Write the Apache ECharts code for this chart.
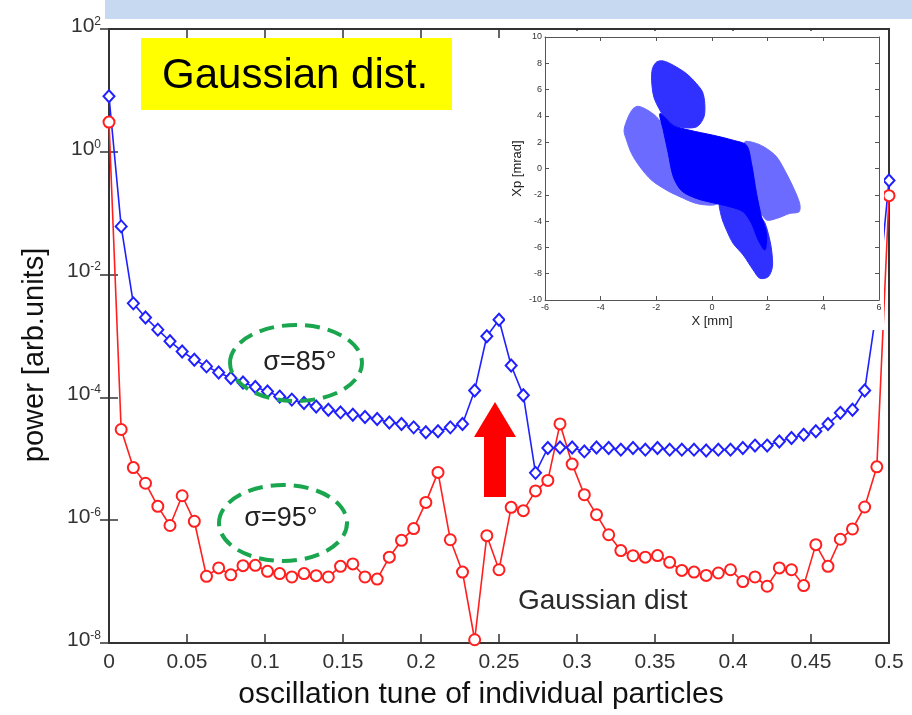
<!DOCTYPE html>
<html>
<head>
<meta charset="utf-8">
<title>power spectrum of individual particles</title>
<script src="https://cdn.jsdelivr.net/npm/echarts@6/dist/echarts.min.js"></script>
<style>
  html, body { margin: 0; padding: 0; background: #fff; }
  #chart { width: 912px; height: 715px; }
</style>
</head>
<body>
<div id="chart"></div>
<script>
// oscillation tune, one point every 1/128
var tunes = [0, 0.0078, 0.0156, 0.0234, 0.0313, 0.0391, 0.0469, 0.0547, 0.0625, 0.0703,
  0.0781, 0.0859, 0.0938, 0.1016, 0.1094, 0.1172, 0.125, 0.1328, 0.1406, 0.1484,
  0.1563, 0.1641, 0.1719, 0.1797, 0.1875, 0.1953, 0.2031, 0.2109, 0.2188, 0.2266,
  0.2344, 0.2422, 0.25, 0.2578, 0.2656, 0.2734, 0.2813, 0.2891, 0.2969, 0.3047,
  0.3125, 0.3203, 0.3281, 0.3359, 0.3438, 0.3516, 0.3594, 0.3672, 0.375, 0.3828,
  0.3906, 0.3984, 0.4063, 0.4141, 0.4219, 0.4297, 0.4375, 0.4453, 0.4531, 0.4609,
  0.4688, 0.4766, 0.4844, 0.4922, 0.5];

// sigma = 85 deg (blue diamonds)
var power85 = [8.0, 6.1e-2, 3.4e-3, 2.0e-3, 1.27e-3, 8.2e-4, 5.6e-4, 4.1e-4, 3.2e-4, 2.55e-4,
  2.07e-4, 1.75e-4, 1.48e-4, 1.25e-4, 1.03e-4, 9.2e-5, 8.1e-5, 7.1e-5, 6.3e-5, 5.7e-5,
  5.2e-5, 4.8e-5, 4.45e-5, 3.9e-5, 3.7e-5, 3.25e-5, 2.7e-5, 2.8e-5, 3.25e-5, 3.7e-5,
  1.3e-4, 9.9e-4, 1.84e-3, 3.3e-4, 1.08e-4, 5.9e-6, 1.5e-5, 1.53e-5, 1.53e-5, 1.32e-5,
  1.53e-5, 1.5e-5, 1.41e-5, 1.5e-5, 1.41e-5, 1.5e-5, 1.41e-5, 1.41e-5, 1.41e-5, 1.37e-5,
  1.41e-5, 1.41e-5, 1.5e-5, 1.64e-5, 1.64e-5, 1.92e-5, 2.18e-5, 2.47e-5, 2.8e-5, 3.7e-5,
  5.6e-5, 6.3e-5, 1.3e-4, 2.9e-3, 0.34];

// sigma = 95 deg (red circles)
var power95 = [3.05, 3.0e-5, 7.2e-6, 4.0e-6, 1.68e-6, 8.2e-7, 2.5e-6, 9.6e-7, 1.22e-7, 1.67e-7,
  1.29e-7, 1.82e-7, 1.84e-7, 1.47e-7, 1.35e-7, 1.19e-7, 1.35e-7, 1.25e-7, 1.19e-7, 1.77e-7,
  1.94e-7, 1.19e-7, 1.1e-7, 2.5e-7, 4.7e-7, 7.3e-7, 1.95e-6, 6.0e-6, 4.8e-7, 1.43e-7,
  1.13e-8, 5.6e-7, 1.56e-7, 1.62e-6, 1.43e-6, 3.0e-6, 4.45e-6, 3.7e-5, 8.2e-6, 2.6e-6,
  1.23e-6, 5.8e-7, 3.2e-7, 2.64e-7, 2.5e-7, 2.65e-7, 2.06e-7, 1.52e-7, 1.43e-7, 1.26e-7,
  1.38e-7, 1.56e-7, 1.0e-7, 1.19e-7, 8.4e-8, 1.67e-7, 1.56e-7, 8.6e-8, 4.0e-7, 1.77e-7,
  4.9e-7, 7.2e-7, 1.64e-6, 7.4e-6, 0.193];

// decades that carry a tick on the power axis
var powerTicks = [1e-8, 1e-6, 1e-4, 1e-2, 1, 1e2];

// inset phase space (X [mm], Xp [mrad]) - outlines of the particle cloud
var leftLobe = [[-3.01, 3.92], [-2.83, 4.56], [-2.65, 4.73], [-2.35, 4.48], [-1.99, 3.92],
  [-1.75, 3.16], [-1.57, 1.65], [-1.39, 0.38], [-1.09, -0.63], [-0.68, -1.39], [-0.08, -1.9],
  [0.28, -2.53], [0.04, -2.78], [-0.56, -2.66], [-1.15, -2.15], [-1.63, -1.65], [-2.17, -0.89],
  [-2.59, 0.13], [-2.89, 1.14], [-3.07, 2.15], [-3.16, 2.91]];
var rightLobe = [[1.18, 2.03], [1.6, 1.9], [1.96, 1.52], [2.32, 0.89], [2.61, -0.13],
  [2.91, -1.39], [3.15, -2.66], [3.13, -3.29], [2.79, -3.42], [2.32, -3.8], [1.96, -3.92],
  [1.72, -3.16], [1.54, -1.9], [1.36, -0.13], [1.24, 1.14]];
var upperArm = [[-1.99, 8.1], [-1.75, 8.18], [-1.39, 7.85], [-0.92, 7.22], [-0.56, 6.46],
  [-0.34, 5.82], [-0.26, 4.94], [-0.29, 3.92], [-0.56, 3.16], [-1.15, 3.16], [-1.63, 3.67],
  [-1.87, 4.43], [-2.09, 5.44], [-2.17, 6.71], [-2.14, 7.59]];
var lowerArm = [[0.28, -2.53], [0.76, -2.78], [1.36, -3.16], [1.84, -3.92], [2.02, -4.94],
  [2.14, -6.2], [2.17, -7.47], [2.02, -8.23], [1.72, -8.35], [1.48, -7.72], [1.12, -6.58],
  [0.76, -5.7], [0.52, -4.68], [0.34, -3.67]];
var denseCore = [[-1.87, 4.18], [-1.39, 3.29], [-0.8, 2.91], [0.04, 2.53], [0.76, 2.15],
  [1.24, 1.77], [1.42, 0.38], [1.6, -1.9], [1.78, -3.67], [1.96, -4.94], [1.9, -6.2],
  [1.66, -5.44], [1.42, -4.18], [1.12, -3.29], [0.64, -2.91], [0.04, -2.61], [-0.56, -2.28],
  [-1.09, -1.7], [-1.39, -0.63], [-1.57, 1.14], [-1.75, 2.91]];

var FONT = "'Liberation Sans', Arial, Helvetica, sans-serif";
var cloudShapes = [leftLobe, rightLobe, upperArm, lowerArm, denseCore];
var cloudFills = ['#6b6bff', '#6b6bff', '#3030ff', '#3030ff', '#0000ff'];

var chart = echarts.init(document.getElementById('chart'));

function pairs(xs, ys) {
  return xs.map(function (x, i) { return [x, ys[i]]; });
}

var insetLabel = { fontSize: 9, color: '#333', fontFamily: FONT };

chart.setOption({
  backgroundColor: '#fff',
  animation: false,
  grid: [
    { left: 109, right: 23, top: 29, bottom: 72, show: true, borderColor: '#333', borderWidth: 2, backgroundColor: 'transparent' },
    { left: 545, right: 33, top: 37, bottom: 415, z: 6 }
  ],
  xAxis: [
    {
      type: 'value', gridIndex: 0, min: 0, max: 0.5, interval: 0.05,
      name: 'oscillation tune of individual particles',
      nameLocation: 'middle', nameGap: 37,
      nameTextStyle: { fontSize: 30, color: '#111', fontFamily: FONT, padding: [0, 36, 0, 0] },
      axisLine: { show: false },
      axisTick: { inside: true, length: 9, lineStyle: { color: '#333', width: 1.5 } },
      axisLabel: { fontSize: 21, color: '#333', margin: 9, fontFamily: FONT },
      splitLine: { show: false }
    },
    {
      type: 'value', gridIndex: 0, position: 'top', min: 0, max: 0.5, interval: 0.05,
      axisLine: { show: false },
      axisTick: { inside: true, length: 9, lineStyle: { color: '#333', width: 1.5 } },
      axisLabel: { show: false }, splitLine: { show: false }
    },
    {
      type: 'value', gridIndex: 1, min: -6, max: 6, interval: 2, z: 8,
      name: 'X [mm]', nameLocation: 'middle', nameGap: 15,
      nameTextStyle: { fontSize: 13, color: '#222', fontFamily: FONT },
      axisLine: { onZero: false, lineStyle: { color: '#555', width: 1 } },
      axisTick: { inside: true, length: 4, lineStyle: { color: '#555' } },
      axisLabel: Object.assign({ margin: 3 }, insetLabel),
      splitLine: { show: false }
    },
    {
      type: 'value', gridIndex: 1, position: 'top', min: -6, max: 6, interval: 2, z: 8,
      axisLine: { onZero: false, lineStyle: { color: '#555', width: 1 } },
      axisTick: { inside: true, length: 4, lineStyle: { color: '#555' } },
      axisLabel: { show: false }, splitLine: { show: false }
    }
  ],
  yAxis: [
    {
      type: 'log', logBase: 10, gridIndex: 0, min: 1e-8, max: 1e2,
      name: 'power [arb.units]', nameLocation: 'middle', nameGap: 60, nameRotate: 90,
      nameTextStyle: { fontSize: 29, color: '#111', fontFamily: FONT, padding: [0, 38, 0, 0] },
      axisLine: { show: false },
      axisTick: { inside: true, length: 9, customValues: powerTicks, lineStyle: { color: '#333', width: 1.5 } },
      axisLabel: {
        margin: 8,
        padding: [0, 0, 6, 0],
        customValues: powerTicks,
        formatter: function (v) {
          return '{b|10}{e|' + Math.round(Math.log10(v)) + '}';
        },
        rich: {
          b: { fontSize: 21, lineHeight: 21, padding: [6, 0, 0, 0], verticalAlign: 'bottom', color: '#333', fontFamily: FONT },
          e: { fontSize: 12, lineHeight: 12, verticalAlign: 'top', color: '#333', fontFamily: FONT }
        }
      },
      splitLine: { show: false }
    },
    {
      type: 'log', logBase: 10, gridIndex: 0, position: 'right', min: 1e-8, max: 1e2,
      axisLine: { show: false },
      axisTick: { inside: true, length: 9, customValues: powerTicks, lineStyle: { color: '#333', width: 1.5 } },
      axisLabel: { show: false }, splitLine: { show: false }
    },
    {
      type: 'value', gridIndex: 1, min: -10, max: 10, interval: 2, z: 8,
      name: 'Xp [mrad]', nameLocation: 'middle', nameGap: 21, nameRotate: 90,
      nameTextStyle: { fontSize: 13, color: '#222', fontFamily: FONT },
      axisLine: { onZero: false, lineStyle: { color: '#555', width: 1 } },
      axisTick: { inside: true, length: 4, lineStyle: { color: '#555' } },
      axisLabel: Object.assign({ margin: 3 }, insetLabel),
      splitLine: { show: false }
    },
    {
      type: 'value', gridIndex: 1, position: 'right', min: -10, max: 10, interval: 2, z: 8,
      axisLine: { onZero: false, lineStyle: { color: '#555', width: 1 } },
      axisTick: { inside: true, length: 4, lineStyle: { color: '#555' } },
      axisLabel: { show: false }, splitLine: { show: false }
    }
  ],
  series: [
    {
      name: 'sigma=95', type: 'line', xAxisIndex: 0, yAxisIndex: 0, clip: false,
      data: pairs(tunes, power95),
      symbol: 'emptyCircle', symbolSize: 11,
      lineStyle: { color: '#ff1f1f', width: 1.6 },
      itemStyle: { color: '#ff1f1f', borderWidth: 1.4 },
      z: 2
    },
    {
      name: 'sigma=85', type: 'line', xAxisIndex: 0, yAxisIndex: 0, clip: false,
      data: pairs(tunes, power85),
      symbol: 'emptyDiamond', symbolSize: [11, 12],
      lineStyle: { color: '#2020ff', width: 1.6 },
      itemStyle: { color: '#2020ff', borderWidth: 1.4 },
      z: 2
    },
    {
      name: 'phase space', type: 'custom', xAxisIndex: 2, yAxisIndex: 2, z: 7,
      data: cloudShapes.map(function (s) { return s[0]; }),
      renderItem: function (params, api) {
        var pts = cloudShapes[params.dataIndex].map(function (p) { return api.coord(p); });
        return {
          type: 'polygon',
          shape: { points: pts, smooth: 0.3 },
          style: { fill: cloudFills[params.dataIndex], stroke: cloudFills[params.dataIndex], lineWidth: 1 }
        };
      }
    }
  ],
  graphic: [
    // banner strip at the top
    { type: 'rect', z: 1, shape: { x: 105, y: 0, width: 807, height: 19 }, style: { fill: '#c6d9f0' } },
    // white background behind the inset
    { type: 'rect', z: 5, shape: { x: 505, y: 31, width: 379, height: 299 }, style: { fill: '#fff' } },
    // yellow label box
    { type: 'rect', z: 9, shape: { x: 141, y: 38, width: 311, height: 72 }, style: { fill: '#ffff00' } },
    { type: 'text', z: 10, x: 162, y: 76,
      style: { text: 'Gaussian dist.', fill: '#000', font: '42px ' + FONT, textVerticalAlign: 'middle', verticalAlign: 'middle' } },
    // green dashed ellipses
    { type: 'ellipse', z: 10, shape: { cx: 296, cy: 363, rx: 66, ry: 38 },
      style: { fill: 'transparent', stroke: '#1aa64e', lineWidth: 4, lineDash: [15, 8] } },
    { type: 'ellipse', z: 10, shape: { cx: 283, cy: 523, rx: 64, ry: 38 },
      style: { fill: 'transparent', stroke: '#1aa64e', lineWidth: 4, lineDash: [15, 8] } },
    { type: 'text', z: 10, x: 300, y: 363,
      style: { text: 'σ=85°', fill: '#222', font: '27px ' + FONT, textAlign: 'center', align: 'center', textVerticalAlign: 'middle', verticalAlign: 'middle' } },
    { type: 'text', z: 10, x: 281, y: 519,
      style: { text: 'σ=95°', fill: '#222', font: '27px ' + FONT, textAlign: 'center', align: 'center', textVerticalAlign: 'middle', verticalAlign: 'middle' } },
    // red arrow
    { type: 'polygon', z: 10,
      shape: { points: [[495, 402], [516, 437], [506, 437], [506, 497], [484, 497], [484, 437], [474, 437]] },
      style: { fill: '#ff0000' } },
    { type: 'text', z: 10, x: 518, y: 601,
      style: { text: 'Gaussian dist', fill: '#2a2a2a', font: '28px ' + FONT, textVerticalAlign: 'middle', verticalAlign: 'middle' } }
  ]
});
</script>
</body>
</html>
